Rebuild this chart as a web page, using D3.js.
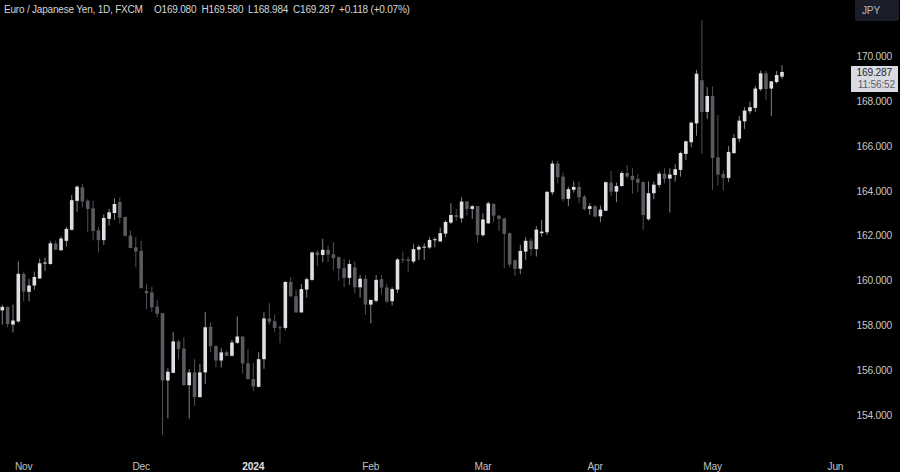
<!DOCTYPE html>
<html>
<head>
<meta charset="utf-8">
<script src="https://cdn.jsdelivr.net/npm/d3@7/dist/d3.min.js"></script>
<style>
  html, body { margin: 0; padding: 0; background: #000; }
  svg { display: block; }
  text { font-family: "Liberation Sans", Arial, sans-serif; letter-spacing: -0.2px; }
</style>
</head>
<body>
<svg id="chart" width="900" height="472"></svg>
<script>
// EUR/JPY daily candles
const opens = [158.67,158.83,158.04,158.18,160.30,159.50,159.78,160.09,160.76,160.74,161.65,161.35,161.77,162.26,163.55,164.15,163.56,163.22,162.24,161.80,162.75,163.01,163.50,162.83,162.00,161.48,161.32,159.53,159.47,158.84,158.55,155.55,155.89,157.29,156.97,155.34,155.91,154.81,155.91,157.94,157.09,156.44,156.81,156.65,157.23,157.51,156.32,155.61,155.27,156.50,158.31,158.19,157.92,157.89,159.94,159.30,158.58,159.60,160.03,161.25,161.14,161.37,161.17,161.04,160.55,160.12,160.59,159.70,160.08,158.93,159.10,160.06,159.69,159.08,159.60,160.95,160.94,160.85,161.38,161.47,161.47,161.80,161.74,162.09,162.58,162.91,162.77,163.52,163.19,163.32,162.02,162.55,163.41,162.89,162.77,162.11,160.92,160.53,161.29,161.77,161.40,162.11,162.15,163.93,165.21,164.63,163.64,164.04,164.17,163.74,163.19,163.31,162.86,163.11,164.36,163.96,164.21,164.79,164.66,164.53,164.39,162.73,163.89,164.26,164.75,164.54,164.70,164.93,165.64,166.16,167.00,168.92,167.51,168.22,165.49,164.75,164.57,165.67,166.32,167.09,167.54,167.69,168.52,169.23,168.55,168.84,169.08];
const highs = [158.92,158.84,158.93,160.85,160.40,160.08,160.40,160.98,161.02,161.77,161.78,161.96,162.40,163.81,164.24,164.30,163.62,163.56,162.40,162.95,163.19,163.67,163.71,162.85,162.23,161.93,161.77,159.85,159.73,159.14,158.55,156.10,157.70,157.36,157.48,156.06,156.50,156.29,158.59,158.13,157.11,156.99,156.89,157.36,158.40,157.51,156.95,156.32,156.81,158.59,158.99,158.49,158.00,159.96,160.16,159.59,159.85,160.13,161.29,161.37,161.86,161.56,161.71,161.07,160.97,160.92,160.85,160.25,160.25,159.14,160.25,160.25,159.85,159.70,161.00,161.29,161.07,161.62,161.59,161.66,161.93,161.93,162.36,162.67,163.44,163.19,163.71,163.52,163.37,163.32,163.00,163.52,163.44,162.92,162.80,162.14,160.92,161.59,161.93,161.89,162.43,162.70,163.99,165.34,165.33,164.81,164.18,164.41,164.41,163.81,163.44,163.37,163.34,164.41,164.88,164.36,164.88,165.15,165.00,164.73,164.41,164.41,164.41,164.85,165.00,165.00,165.18,165.74,166.23,167.08,169.38,171.60,168.61,168.64,167.37,164.90,165.99,166.53,167.33,167.72,167.97,168.67,169.35,169.35,168.89,169.33,169.58];
const lows = [158.03,157.92,157.69,158.13,159.07,159.08,159.59,160.08,160.43,160.70,161.37,161.32,161.51,162.23,163.07,163.25,162.15,161.78,161.25,161.59,162.45,162.70,162.55,161.96,161.44,160.59,159.66,158.72,158.58,158.37,153.13,153.87,155.88,156.50,155.33,153.86,154.42,154.79,155.39,156.81,156.13,156.13,156.62,156.62,157.18,155.85,155.61,155.08,155.24,156.07,158.04,157.70,157.21,157.78,159.27,158.58,158.58,159.24,159.99,160.65,160.82,160.82,160.45,159.99,159.70,159.81,159.44,159.24,158.47,158.09,159.02,159.39,158.99,158.89,159.44,160.77,160.40,160.77,160.92,160.92,161.41,161.48,161.74,161.93,162.52,162.67,162.58,162.89,162.75,161.69,161.96,162.52,162.60,162.21,160.55,160.59,160.21,160.28,160.92,161.10,161.07,161.96,162.03,163.81,164.33,163.52,163.32,163.92,163.44,163.12,162.92,162.82,162.60,163.10,163.77,163.49,164.18,164.53,163.86,163.93,162.26,162.67,163.62,164.14,164.33,163.03,164.41,164.63,165.37,165.94,166.45,165.64,167.20,164.04,164.23,164.01,164.39,165.67,166.16,166.74,167.42,167.51,168.44,168.04,167.33,168.78,168.984];
const closes = [158.83,158.06,158.22,160.30,159.51,159.78,160.16,160.77,160.80,161.66,161.37,161.87,162.30,163.58,164.18,163.52,163.19,162.21,161.80,162.79,163.04,163.41,162.80,161.99,161.45,161.29,159.66,159.44,158.81,158.52,155.55,155.94,157.29,156.95,155.34,155.91,154.81,155.91,157.92,157.08,156.44,156.80,156.65,157.24,157.51,156.31,155.61,155.28,156.50,158.31,158.16,157.89,157.89,159.94,159.30,158.58,159.62,160.06,161.25,161.13,161.37,161.16,161.00,160.54,160.12,160.74,159.70,160.08,158.93,159.14,160.03,159.69,159.07,159.62,160.94,160.91,160.88,161.40,161.50,161.51,161.81,161.84,162.11,162.61,162.92,162.83,163.52,163.19,163.31,162.03,162.72,163.44,162.89,162.75,162.08,160.71,160.52,161.32,161.77,161.40,162.27,162.18,163.95,165.21,164.60,163.62,164.07,164.17,163.71,163.18,163.31,162.85,163.16,164.38,163.96,164.21,164.79,164.63,164.48,164.36,162.92,163.89,164.27,164.76,164.53,164.72,164.96,165.68,166.20,167.03,169.21,167.51,168.22,165.46,164.72,164.57,165.73,166.35,167.12,167.57,167.72,168.55,169.23,168.53,168.87,169.15,169.287];

const priceTicks = [154, 156, 158, 160, 162, 164, 166, 168, 170];
const monthLabels = ['Nov', 'Dec', '2024', 'Feb', 'Mar', 'Apr', 'May', 'Jun'];
const monthBars = [4, 26, 47, 69, 90, 111, 133, 156];
const titleParts = ['Euro / Japanese Yen, 1D, FXCM', 'O169.080', 'H169.580', 'L168.984', 'C169.287', '+0.118 (+0.07%)'];
const titleStarts = [4, 154, 201.5, 248, 293, 339];
const lastPrice = 169.287;
const countdown = '11:56:52';

const svg = d3.select('#chart');
const width = 900;
const height = 472;

svg.append('rect').attr('width', width).attr('height', height).attr('fill', '#000');

const x = d3.scaleLinear().domain([0, opens.length - 1]).range([2.3, 782]);
const y = d3.scaleLinear().domain([154, 170]).range([415.3, 56]);

const upColor = '#dfdfe4';
const downColor = '#5a5a60';

// Candles
const candles = svg.append('g').selectAll('g')
    .data(opens.map((o, i) => i))
    .join('g');

candles.append('line')
    .attr('x1', i => x(i))
    .attr('x2', i => x(i))
    .attr('y1', i => y(highs[i]))
    .attr('y2', i => y(lows[i]))
    .attr('stroke', i => closes[i] >= opens[i] ? '#85858a' : '#505056')
    .attr('stroke-width', 1);

candles.append('rect')
    .attr('x', i => x(i) - 1.8)
    .attr('width', 3.6)
    .attr('y', i => y(Math.max(opens[i], closes[i])))
    .attr('height', i => Math.max(1, Math.abs(y(opens[i]) - y(closes[i]))))
    .attr('fill', i => closes[i] >= opens[i] ? upColor : downColor);

// Price axis
const yAxis = svg.append('g')
    .attr('transform', 'translate(892,0)')
    .call(d3.axisLeft(y).tickValues(priceTicks).tickSize(0).tickFormat(d3.format('.3f')));
yAxis.select('.domain').remove();
yAxis.selectAll('text')
    .attr('x', 0)
    .attr('font-size', 10.2)
    .attr('font-family', '"Liberation Sans", Arial, sans-serif')
    .attr('fill', '#c8c8c8');

// Time axis
svg.append('g').selectAll('text')
    .data(monthLabels)
    .join('text')
    .attr('x', (d, i) => x(monthBars[i]))
    .attr('y', 469.5)
    .attr('text-anchor', 'middle')
    .attr('font-size', 10.2)
    .attr('font-weight', d => d === '2024' ? 'bold' : 'normal')
    .attr('fill', d => d === '2024' ? '#e0e0e0' : '#c0c0c0')
    .text(d => d);

// Header line
svg.append('g').selectAll('text')
    .data(titleParts)
    .join('text')
    .attr('x', (d, i) => titleStarts[i])
    .attr('y', 13)
    .attr('font-size', 10)
    .attr('fill', '#d6d6d6')
    .text(d => d);

// Currency button
svg.append('rect')
    .attr('x', 855).attr('y', -4).attr('width', 44).attr('height', 25).attr('rx', 3)
    .attr('fill', '#1b1e29');
svg.append('text')
    .attr('x', 871).attr('y', 14)
    .attr('text-anchor', 'middle')
    .attr('font-size', 10.2)
    .attr('fill', '#b4b6c0')
    .text('JPY');

// Last price label
const labelY = y(lastPrice);
svg.append('rect')
    .attr('x', 851).attr('y', labelY - 6).attr('width', 47).attr('height', 26)
    .attr('fill', '#d9dbe3');
svg.append('text')
    .attr('x', 892).attr('y', labelY + 4)
    .attr('text-anchor', 'end')
    .attr('font-size', 10.2)
    .attr('fill', '#1e1f26')
    .text(d3.format('.3f')(lastPrice));
svg.append('text')
    .attr('x', 895).attr('y', labelY + 16)
    .attr('text-anchor', 'end')
    .attr('font-size', 10.2)
    .attr('fill', '#5d5f6b')
    .text(countdown);
</script>
</body>
</html>
